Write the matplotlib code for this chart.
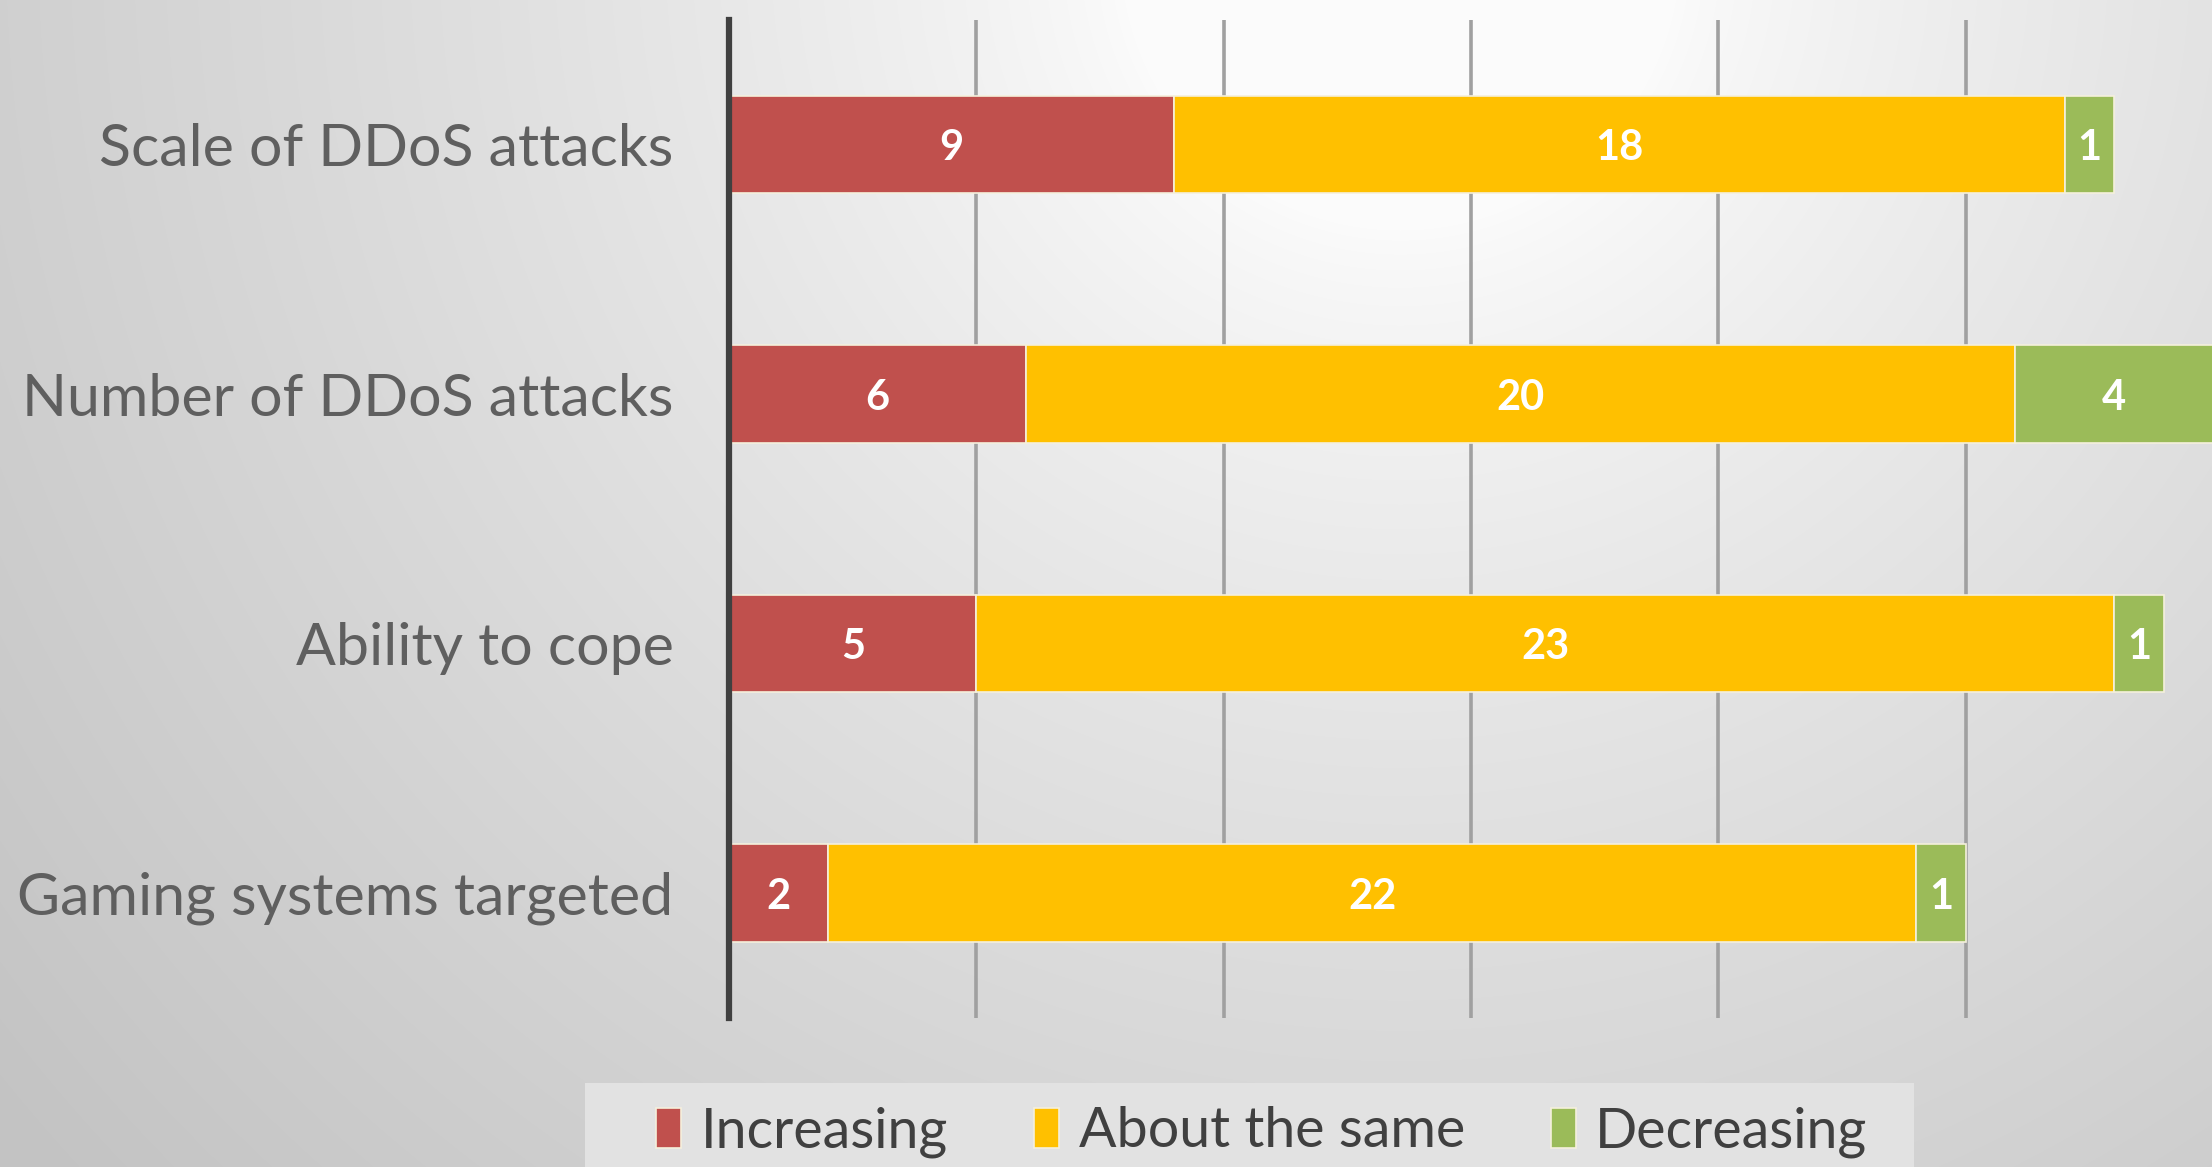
import numpy as np
import matplotlib
matplotlib.use("Agg")
import matplotlib.pyplot as plt
from matplotlib.patches import Rectangle

categories = ["Scale of DDoS attacks", "Number of DDoS attacks", "Ability to cope", "Gaming systems targeted"]
series_names = ["Increasing", "About the same", "Decreasing"]
increasing = [9, 6, 5, 2]
about_same = [18, 20, 23, 22]
decreasing = [1, 4, 1, 1]
colors = ["#C0504D", "#FFC000", "#9BBB59"]
x_ticks = [0, 5, 10, 15, 20, 25, 30]

W, H = 2212, 1167
fig = plt.figure(figsize=(W / 100, H / 100), dpi=100)

# background radial gradient
bg = fig.add_axes([0, 0, 1, 1], zorder=-10)
yy, xx = np.mgrid[0:H, 0:W]
r = np.sqrt((xx - 1400) ** 2 + (yy + 50) ** 2)
t = np.clip((r - 280) / 1550, 0, 1) ** 0.8
val = (251 - 56 * t) / 255.0
img = np.dstack([val, val, val])
bg.imshow(img, aspect="auto", extent=[0, 1, 0, 1], origin="upper")
bg.set_axis_off()

ax = fig.add_axes([0.3296, 0.128, 0.6709, 0.855])
ax.set_facecolor("none")

y = np.arange(len(categories))
series = [increasing, about_same, decreasing]
left = np.zeros(len(categories))
for name, vals, c in zip(series_names, series, colors):
    vals = np.array(vals, dtype=float)
    ax.barh(y, vals, left=left, height=0.39, color=c, label=name,
            edgecolor="#f5f0dc", linewidth=1.2, zorder=3)
    for yi, (l, v) in enumerate(zip(left, vals)):
        ax.text(l + v / 2, yi + 0.015, f"{int(v)}", ha="center", va="center",
                color="white", fontsize=30, fontweight="bold",
                family=["Lato", "DejaVu Sans"], zorder=4)
    left += vals

ax.set_xlim(0, 30)
ax.set_ylim(3.5, -0.5)
ax.set_xticks(x_ticks)
ax.xaxis.grid(True, color="#a0a0a0", linewidth=2.6, zorder=0)
ax.set_axisbelow(True)
ax.tick_params(axis="x", length=0, labelbottom=False)
ax.set_yticks(y)
ax.set_yticklabels(categories, fontsize=42.5, color="#5f5f5f",
                   family=["Lato", "DejaVu Sans"], fontweight="normal")
ax.tick_params(axis="y", length=0, pad=40)
for s in ["top", "right", "bottom"]:
    ax.spines[s].set_visible(False)
ax.spines["left"].set_color("#404040")
ax.spines["left"].set_linewidth(4.5)
ax.spines["left"].set_zorder(5)

# legend background panel
fig.patches.append(Rectangle((585 / W, 0), 1329 / W, (H - 1083) / H,
                             transform=fig.transFigure, facecolor="#e2e2e2",
                             edgecolor="none", zorder=-5))

handles, labels = ax.get_legend_handles_labels()
leg = fig.legend(handles, labels, loc="center", bbox_to_anchor=(0.5705, 0.03), ncol=3,
                 frameon=False,
                 prop={"family": ["Lato", "DejaVu Sans"], "size": 40},
                 handlelength=0.45, handleheight=0.75, handletextpad=0.35,
                 columnspacing=1.55, borderpad=0.0, borderaxespad=0)
for tx in leg.get_texts():
    tx.set_color("#404040")

fig.savefig("out.png", dpi=100)
